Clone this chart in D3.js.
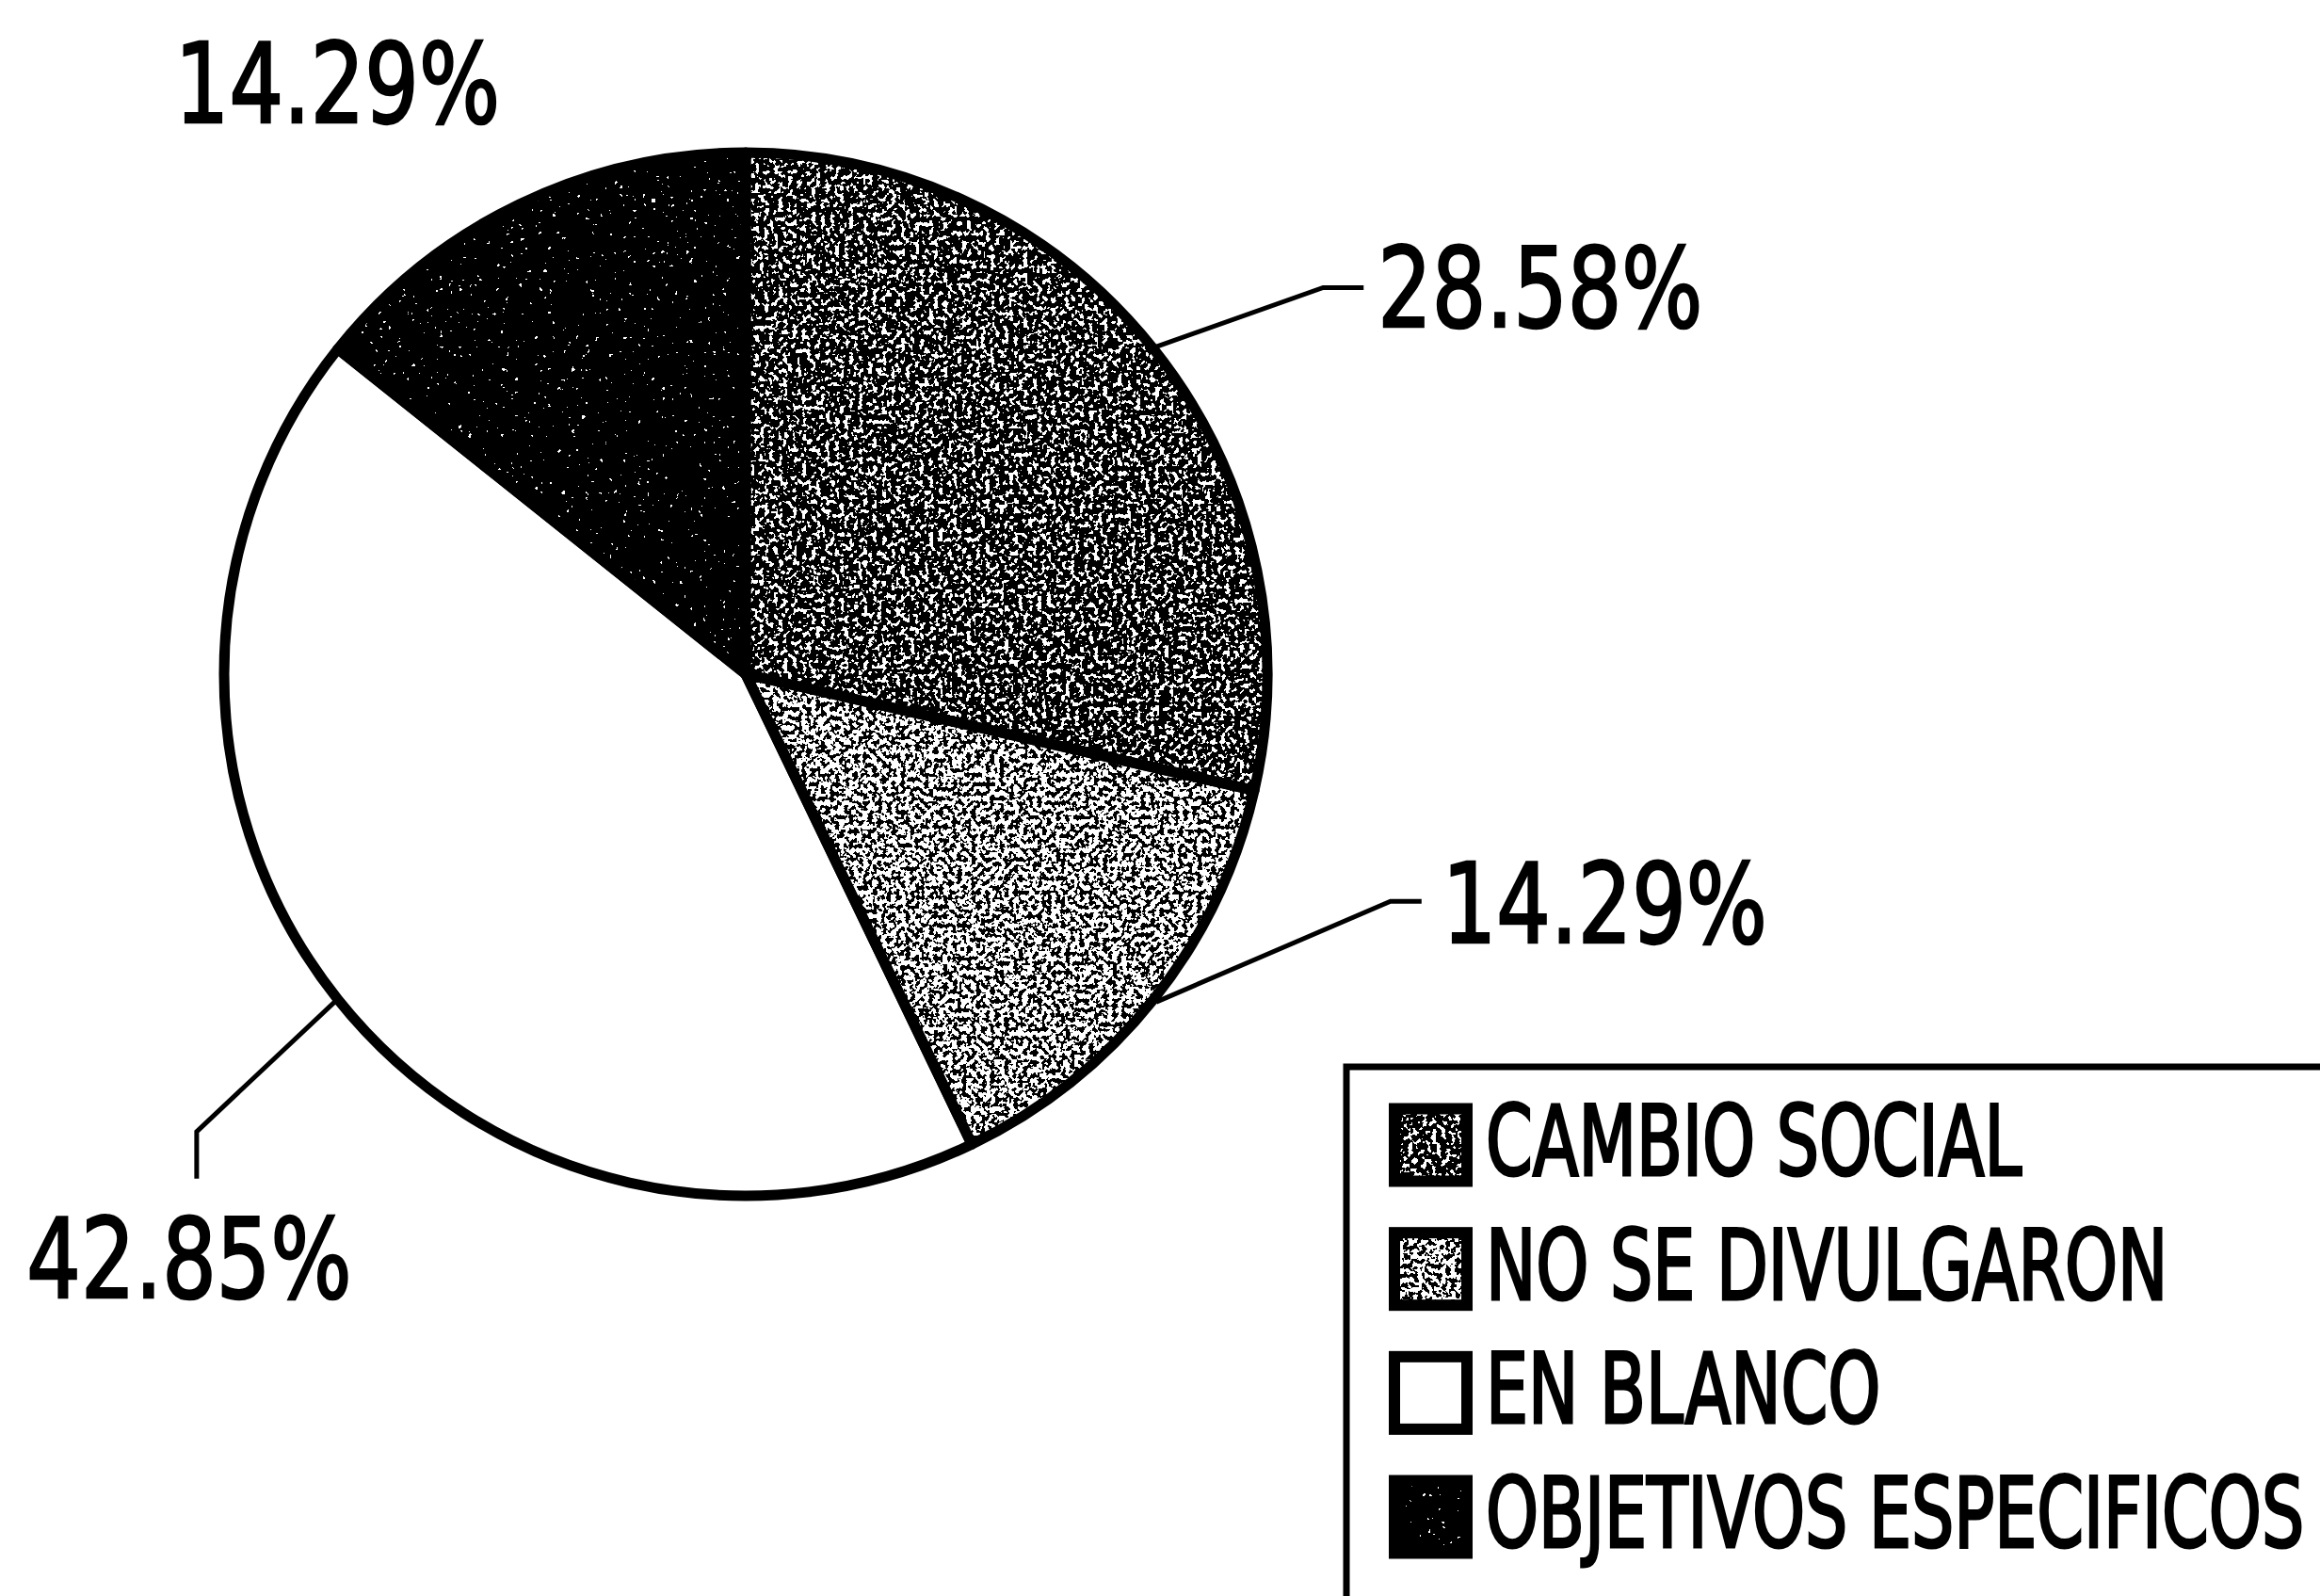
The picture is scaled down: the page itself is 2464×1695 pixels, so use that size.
<!DOCTYPE html>
<html>
<head>
<meta charset="utf-8">
<script src="https://cdn.jsdelivr.net/npm/d3@7"></script>
<style>
  html, body { margin: 0; padding: 0; background: #fff; }
  svg { display: block; }
  text { font-family: "DejaVu Sans Condensed", "DejaVu Sans", sans-serif; fill: #000; }
</style>
</head>
<body>
<div id="chart"></div>
<script>
// Daten
const categories = ['CAMBIO SOCIAL', 'NO SE DIVULGARON', 'EN BLANCO', 'OBJETIVOS ESPECIFICOS'];
const values     = [28.58, 14.29, 42.85, 14.29];
const labels     = ['28.58%', '14.29%', '42.85%', '14.29%'];

// Layout
const W = 2464, H = 1695;
const cx = 792, cy = 716, R = 554;

// Raster-Muster (Schwelle ~ Anteil schwarz)
const textures = {
  'CAMBIO SOCIAL':         { t: 0.565 },
  'NO SE DIVULGARON':      { t: 0.49 },
  'EN BLANCO':             null,
  'OBJETIVOS ESPECIFICOS': { t: 0.74 }
};

// Beschriftung: Winkel (Grad) und Radius des Knickpunkts
const labelLayout = [
  { a: 56.2,  r: 738, dir: 'right', len: 43, dx: 15, dy: 42 },
  { a: 109.4, r: 726, dir: 'right', len: 33, dx: 22, dy: 44 },
  { a: 230.2, r: 759, dir: 'down',  len: 50, dx: -8, dy: 126 },
  { a: 323.5, r: 729, dir: 'none',  len: 0,  dx: 0,  dy: 0 }
];

const svg = d3.select('#chart').append('svg')
  .attr('width', W).attr('height', H);

svg.append('rect').attr('width', W).attr('height', H).attr('fill', '#fff');

const defs = svg.append('defs');
Object.entries(textures).forEach(([k, tx], i) => {
  if (!tx) return;
  const table = d3.range(200).map(j => (j / 200 >= tx.t ? 1 : 0)).join(' ');
  const f = defs.append('filter')
    .attr('id', 'tex' + i)
    .attr('filterUnits', 'userSpaceOnUse')
    .attr('x', -W).attr('y', -H).attr('width', 3 * W).attr('height', 3 * H)
    .attr('color-interpolation-filters', 'sRGB');
  f.append('feTurbulence')
    .attr('type', 'fractalNoise')
    .attr('baseFrequency', 0.2)
    .attr('numOctaves', 2)
    .attr('seed', 4 + i)
    .attr('result', 'n');
  const ct = f.append('feComponentTransfer').attr('in', 'n').attr('result', 'b');
  ct.append('feFuncR').attr('type', 'discrete').attr('tableValues', table);
  f.append('feColorMatrix')
    .attr('in', 'b').attr('type', 'matrix')
    .attr('values', '1 0 0 0 0  1 0 0 0 0  1 0 0 0 0  0 0 0 0 1')
    .attr('result', 'g');
  f.append('feComposite')
    .attr('in', 'g').attr('in2', 'SourceGraphic').attr('operator', 'in');
});

function fillFor(cat, sel) {
  const i = categories.indexOf(cat);
  if (textures[cat]) sel.attr('fill', '#000').attr('filter', `url(#tex${i})`);
  else sel.attr('fill', '#fff');
}

// Torte
const pie = d3.pie().sort(null).value(d => d.v);
const arcs = pie(categories.map((c, i) => ({ c, v: values[i] })));
const arc = d3.arc().innerRadius(0).outerRadius(R);

const g = svg.append('g').attr('transform', `translate(${cx},${cy})`);

g.selectAll('path.fill')
  .data(arcs)
  .enter().append('path')
    .attr('class', 'fill')
    .attr('d', arc)
    .each(function(d) { fillFor(d.data.c, d3.select(this)); });

g.selectAll('path.edge')
  .data(arcs)
  .enter().append('path')
    .attr('class', 'edge')
    .attr('d', arc)
    .attr('fill', 'none')
    .attr('stroke', '#000')
    .attr('stroke-width', 11)
    .attr('stroke-linejoin', 'round');

// Führungslinien + Prozentwerte
arcs.forEach((d, i) => {
  const L = labelLayout[i];
  const mid = (d.startAngle + d.endAngle) / 2;
  const p0 = d3.pointRadial(mid, R + 4);
  const p1 = d3.pointRadial(L.a * Math.PI / 180, L.r);
  let p2 = p1;
  if (L.dir === 'right') p2 = [p1[0] + L.len, p1[1]];
  if (L.dir === 'down')  p2 = [p1[0], p1[1] + L.len];
  if (L.dir !== 'none') {
    g.append('path')
      .attr('d', d3.line()([p0, p1, p2]))
      .attr('fill', 'none')
      .attr('stroke', '#000')
      .attr('stroke-width', 5);
  }
  g.append('text')
    .attr('transform', `translate(${p2[0] + L.dx},${p2[1] + L.dy}) scale(0.86,1)`)
    .attr('text-anchor', L.dir === 'right' ? 'start' : 'middle')
    .attr('font-size', 117)
    .attr('stroke', '#000')
    .attr('stroke-width', 2.5)
    .text(labels[i]);
});

// Legende
const legend = svg.append('g').attr('class', 'legend');
legend.append('rect')
  .attr('x', 1430).attr('y', 1133)
  .attr('width', 1200).attr('height', 800)
  .attr('fill', '#fff')
  .attr('stroke', '#000')
  .attr('stroke-width', 7);

const ly = d3.scalePoint().domain(categories).range([1216, 1611]);
const sw = 77;

const items = legend.selectAll('g.item')
  .data(categories)
  .enter().append('g')
    .attr('class', 'item')
    .attr('transform', d => `translate(1481,${ly(d)})`);

items.append('rect')
  .attr('x', 0).attr('y', -sw / 2)
  .attr('width', sw).attr('height', sw)
  .each(function(d) { fillFor(d, d3.select(this)); });

items.append('rect')
  .attr('x', 0).attr('y', -sw / 2)
  .attr('width', sw).attr('height', sw)
  .attr('fill', 'none')
  .attr('stroke', '#000')
  .attr('stroke-width', 12);

items.append('text')
  .attr('transform', 'translate(97,32) scale(0.762,1)')
  .attr('font-size', 104)
  .attr('stroke', '#000')
  .attr('stroke-width', 3)
  .text(d => d);
</script>
</body>
</html>
